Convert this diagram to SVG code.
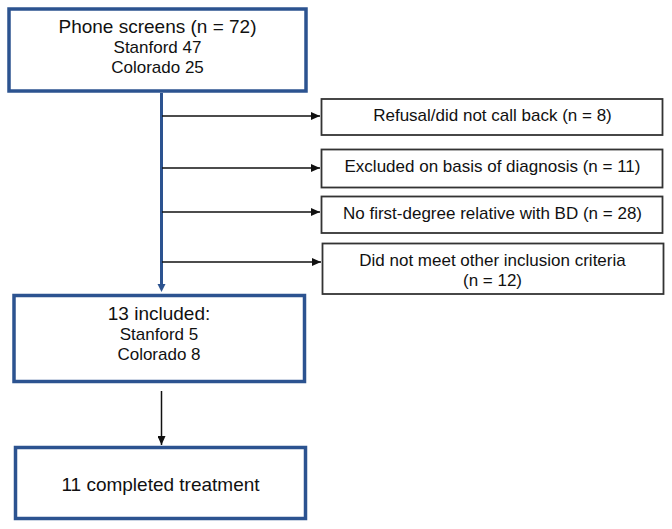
<svg xmlns="http://www.w3.org/2000/svg" width="672" height="529" viewBox="0 0 672 529">
<style>
  .main{fill:#fff;stroke:#2C5390;stroke-width:3.5}
  .side{fill:#fff;stroke:#333;stroke-width:1.8}
  text{font-family:"Liberation Sans",Arial,sans-serif;fill:#111;text-anchor:middle}
  .big{font-size:19px}
  .sm{font-size:17px}
  .blk{stroke:#111;stroke-width:1.5;fill:none}
  .blue{stroke:#2C5390;stroke-width:3;fill:none}
</style>
<defs>
  <marker id="ah" markerWidth="9" markerHeight="8" refX="9" refY="4" orient="auto" markerUnits="userSpaceOnUse">
    <path d="M0,0 L9,4 L0,8 Z" fill="#111"/>
  </marker>
</defs>
<g id="connectors">
  <line class="blue" x1="161.5" y1="93" x2="161.5" y2="284"/>
  <path d="M157.5,284 L165.5,284 L161.5,292 Z" fill="#2C5390"/>
  <line class="blk" x1="162" y1="116" x2="320" y2="116" marker-end="url(#ah)"/>
  <line class="blk" x1="162" y1="168" x2="320" y2="168" marker-end="url(#ah)"/>
  <line class="blk" x1="162" y1="212" x2="320" y2="212" marker-end="url(#ah)"/>
  <line class="blk" x1="162" y1="262" x2="321" y2="262" marker-end="url(#ah)"/>
  <line class="blk" x1="161.5" y1="391" x2="161.5" y2="445" marker-end="url(#ah)"/>
</g>
<g id="phone">
  <rect class="main" x="9" y="9" width="297" height="82"/>
  <text class="big" x="157.5" y="33">Phone screens (n = 72)</text>
  <text class="sm" x="157.5" y="53">Stanford 47</text>
  <text class="sm" x="157.5" y="73">Colorado 25</text>
</g>
<g id="refusal">
  <rect class="side" x="321.5" y="99" width="341" height="36"/>
  <text class="sm" x="492.5" y="121">Refusal/did not call back (n = 8)</text>
</g>
<g id="excluded">
  <rect class="side" x="321.5" y="149.5" width="341" height="38"/>
  <text class="sm" x="492.5" y="172">Excluded on basis of diagnosis (n = 11)</text>
</g>
<g id="norelative">
  <rect class="side" x="321.5" y="196.5" width="341" height="36.5"/>
  <text class="sm" x="492.5" y="219">No first-degree relative with BD (n = 28)</text>
</g>
<g id="other">
  <rect class="side" x="322.5" y="243.5" width="341" height="50.5"/>
  <text class="sm" x="492.5" y="266">Did not meet other inclusion criteria</text>
  <text class="sm" x="492.5" y="286">(n = 12)</text>
</g>
<g id="included">
  <rect class="main" x="14" y="295.5" width="290.5" height="86"/>
  <text class="big" x="159" y="319.5">13 included:</text>
  <text class="sm" x="159" y="340">Stanford 5</text>
  <text class="sm" x="159" y="359.5">Colorado 8</text>
</g>
<g id="completed">
  <rect class="main" x="15.5" y="447.5" width="290" height="71"/>
  <text class="big" x="160.5" y="491">11 completed treatment</text>
</g>
</svg>
